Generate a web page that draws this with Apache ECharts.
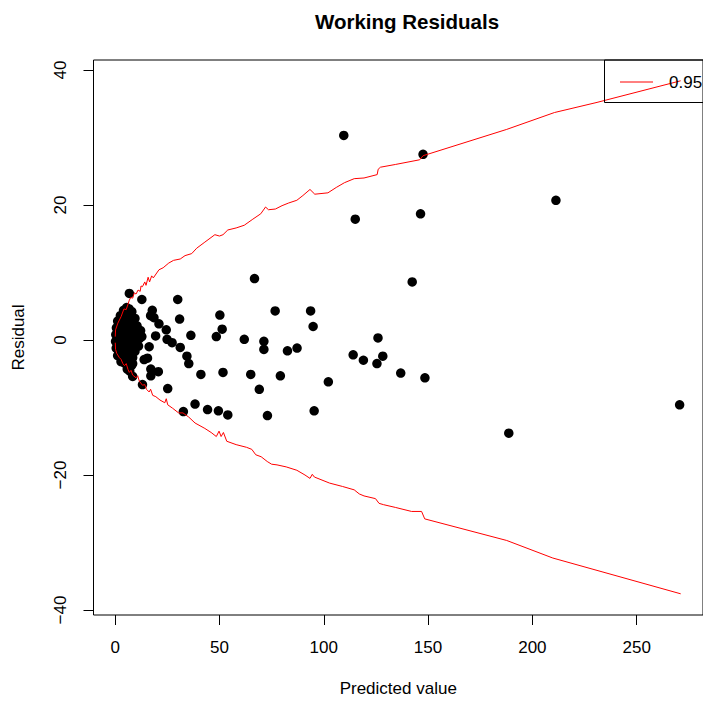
<!DOCTYPE html>
<html><head><meta charset="utf-8">
<script src="https://cdn.jsdelivr.net/npm/echarts@6/dist/echarts.min.js"></script>
<style>html,body{margin:0;padding:0;background:#fff}#c{width:703px;height:702px}</style>
</head><body><div id="c"></div>
<script>
const chartTitle = 'Working Residuals';
const xName = 'Predicted value';
const yName = 'Residual';
const legendLabel = '0.95';
const xTicks = [0, 50, 100, 150, 200, 250];
const yTicks = [-40, -20, 0, 20, 40];

// scattered residuals (predicted, residual)
const residualPoints = [
 [109.6,30.3],[115.1,17.9],[147.6,27.5],[146.4,18.7],[211.3,20.7],[142.4,8.6],[66.8,9.1],
 [126.0,0.3],[128.3,-2.4],[125.5,-3.5],[119.0,-3.0],[114.1,-2.2],[136.9,-4.9],[148.5,-5.6],
 [188.7,-13.8],[270.6,-9.6],[102.2,-6.2],[95.4,-10.5],[93.7,4.3],[94.9,2.0],[76.7,4.3],
 [87.2,-1.2],[82.6,-1.6],[79.2,-5.3],[73.0,-11.2],[69.1,-7.3],[65.0,-5.1],[71.3,-0.2],
 [71.3,-1.4],[61.9,0.1],[54.0,-11.1],[49.5,-10.5],[44.3,-10.3],[38.3,-9.5],[32.7,-10.6],
 [51.7,-4.8],[41.1,-5.1],[25.2,-7.2],[50.2,3.7],[51.3,1.6],[48.5,0.5],[36.3,0.7],[30.0,6.0],
 [30.9,3.1],[35.3,-3.5],[34.4,-2.4],[31.2,-1.1],[27.3,-0.4],[24.9,0.1],[24.5,1.5],[19.4,0.6],
 [21.0,2.4],[17.8,4.4],[18.6,3.3],[17.0,3.6],[12.8,6.0],[6.8,6.9],[16.3,-1.0],[15.5,-2.7],
 [13.9,-2.9],[17.1,-4.3],[20.7,-4.7],[17.1,-5.3],[8.4,-5.4],[13.1,-6.6],[9.5,-1.7],[8.4,-3.5]
];
// dense cluster of small predicted values
const clusterPoints = [
 [4.0,4.4],[5.5,4.8],[6.7,4.6],[8.0,4.2],
 [2.5,3.6],[3.8,3.5],[5.2,3.7],[6.5,3.4],[8.0,3.3],[9.5,3.2],
 [1.2,2.8],[2.4,2.6],[3.6,2.8],[4.8,2.5],[6.2,2.6],[7.5,2.3],[9.0,2.4],[10.5,2.1],
 [0.6,1.8],[1.6,1.6],[2.8,1.9],[4.0,1.6],[5.4,1.7],[6.8,1.5],[8.2,1.4],[9.6,1.6],[11.0,1.2],[12.2,1.4],
 [0.3,0.8],[1.2,0.6],[2.2,0.9],[3.4,0.5],[4.6,0.8],[6.0,0.4],[7.4,0.7],[8.8,0.3],[10.2,0.6],[11.6,0.2],[12.8,0.5],
 [0.2,-0.2],[1.0,-0.4],[2.0,-0.1],[3.0,-0.6],[4.2,-0.3],[5.5,-0.7],[7.0,-0.4],[8.4,-0.8],[9.8,-0.5],[11.2,-0.9],
 [0.5,-1.2],[1.5,-1.5],[2.6,-1.2],[3.8,-1.6],[5.0,-1.3],[6.4,-1.7],[7.8,-1.5],[9.2,-1.3],
 [1.2,-2.3],[2.2,-2.1],[3.3,-2.5],[4.5,-2.2],[5.8,-2.6],[7.2,-2.4],[8.4,-2.6],
 [2.8,-3.2],[4.0,-3.3],[5.3,-3.6],[6.6,-3.3],[7.8,-3.8],
 [5.8,-4.3],[7.0,-4.6]
];
// upper 0.95 envelope
const upperBand = [
 [0.05,0.5],[0.2,1.5],[1.3,2.5],[2.9,3.5],[4.2,4.6],[5.3,4.5],[6.8,5.9],[7.5,6.3],[8.4,6.2],
 [9.2,7.0],[10.0,6.8],[11.0,7.4],[12.0,7.2],[12.4,8.0],[13.1,7.9],[14.2,8.6],[14.8,8.1],
 [15.8,9.3],[16.5,8.6],[17.5,9.5],[18.3,9.2],[21,10.4],[23,10.7],[25.7,11.4],[28,11.8],
 [31.2,12.0],[33.5,12.5],[36.7,12.8],[39.1,13.6],[43,14.5],[47.8,15.6],[50,15.4],[51.7,15.6],
 [54,16.3],[58,16.6],[61.9,17.0],[66,17.9],[69.8,18.7],[72.1,19.7],[73.5,19.3],[76.8,19.4],
 [80,19.9],[83.2,20.3],[87.1,20.7],[90,21.4],[93.4,22.3],[95.7,21.6],[102,21.8],[106,22.6],
 [109.9,23.3],[114.6,23.9],[119.3,24.0],[125.6,24.5],[126.1,25.3],[127.2,25.6],[134.3,26.0],
 [146,26.7],[147.6,27.3],[187.7,31.2],[210.6,33.7],[231,35.2],[271.1,38.4]
];
// lower 0.95 envelope
const lowerBand = [
 [0.05,-0.4],[0.2,-1.4],[0.8,-2.0],[2.0,-2.6],[2.9,-2.9],[3.7,-3.5],[4.5,-3.8],[5.3,-3.5],
 [6.2,-4.4],[6.8,-4.8],[7.6,-4.5],[8.4,-5.2],[10.0,-5.6],[10.8,-5.3],[11.6,-6.1],[13.1,-6.7],
 [14.2,-6.6],[15.0,-7.3],[16.3,-7.7],[17.0,-7.3],[18.0,-8.2],[19.5,-8.4],[21.5,-8.9],[23.8,-9.3],
 [24.5,-8.7],[25.2,-9.6],[27.5,-10.1],[30.4,-10.8],[32.5,-10.8],[35.2,-11.4],[38.3,-12.3],
 [43,-13.1],[46,-13.7],[48.5,-14.3],[49.8,-13.5],[50.8,-14.3],[51.9,-13.7],[53.5,-15.0],
 [58,-15.5],[63,-15.9],[65.5,-16.2],[67.4,-17.0],[70,-17.3],[72.9,-18.0],[75,-18.4],[77.6,-18.5],
 [82,-18.8],[87.1,-19.3],[91,-20.0],[93.4,-20.5],[94.5,-19.9],[95.5,-20.3],[102.8,-21.2],
 [109,-21.7],[114.6,-22.2],[117,-22.8],[119.3,-23.1],[124.8,-23.5],[126.5,-24.2],[128.7,-24.4],
 [134.3,-24.8],[142.1,-25.4],[146.9,-25.4],[148.4,-26.5],[187.7,-29.7],[209.8,-32.3],[271.1,-37.6]
];

const FONT = '"Liberation Sans", Arial, Helvetica, sans-serif';
const FS = 17;
const chart = echarts.init(document.getElementById('c'), null, {renderer: 'svg'});
const fmt = v => (v < 0 ? '\u2212' + Math.abs(v) : String(v));

chart.setOption({
  animation: false,
  backgroundColor: '#fff',
  title: {
    text: chartTitle, left: 402, top: 6, textAlign: 'center',
    textStyle: {fontFamily: FONT, fontSize: 20.5, fontWeight: 'bold', color: '#000'}
  },
  grid: {left: 93.5, top: 60, width: 619, height: 555.5, show: true,
         borderColor: '#000', borderWidth: 1, backgroundColor: 'transparent', containLabel: false},
  xAxis: {
    type: 'value', min: -10.38, max: 281.8,
    name: xName, nameLocation: 'middle', nameGap: 65,
    nameTextStyle: {fontFamily: FONT, fontSize: FS, color: '#000'},
    axisLine: {show: false, onZero: false},
    splitLine: {show: false},
    axisTick: {show: true, inside: false, length: 10, customValues: xTicks, lineStyle: {color: '#000', width: 1}},
    axisLabel: {show: true, margin: 24, customValues: xTicks, formatter: fmt,
                fontFamily: FONT, fontSize: FS, color: '#000'}
  },
  yAxis: {
    type: 'value', min: -40.74, max: 41.48,
    name: yName, nameLocation: 'middle', nameGap: 67,
    nameTextStyle: {fontFamily: FONT, fontSize: FS, color: '#000'},
    axisLine: {show: false, onZero: false},
    splitLine: {show: false},
    axisTick: {show: true, inside: false, length: 10, customValues: yTicks, lineStyle: {color: '#000', width: 1}},
    axisLabel: {show: true, margin: 25, rotate: 90, customValues: yTicks, formatter: fmt,
                fontFamily: FONT, fontSize: FS, color: '#000'}
  },
  series: [
    {type: 'scatter', data: clusterPoints, symbol: 'circle', symbolSize: 9.5,
     itemStyle: {color: '#000', opacity: 1}, z: 2, silent: true},
    {type: 'scatter', data: residualPoints, symbol: 'circle', symbolSize: 9.5,
     itemStyle: {color: '#000', opacity: 1}, z: 2, silent: true},
    {type: 'line', data: upperBand, showSymbol: false, symbol: 'none',
     lineStyle: {color: '#ff0000', width: 1}, z: 3, silent: true},
    {type: 'line', data: lowerBand, showSymbol: false, symbol: 'none',
     lineStyle: {color: '#ff0000', width: 1}, z: 3, silent: true}
  ],
  graphic: [
    {type: 'rect', shape: {x: 604.5, y: 60, width: 200, height: 42.5},
     style: {fill: 'none', stroke: '#000', lineWidth: 1}, z: 10},
    {type: 'line', shape: {x1: 620, y1: 82, x2: 653, y2: 82},
     style: {stroke: '#ff0000', lineWidth: 1}, z: 10},
    {type: 'text', x: 669, y: 82,
     style: {text: legendLabel, fontFamily: FONT, fontSize: FS, fill: '#000',
             textVerticalAlign: 'middle', verticalAlign: 'middle'}, z: 10}
  ]
});
</script>
</body></html>
